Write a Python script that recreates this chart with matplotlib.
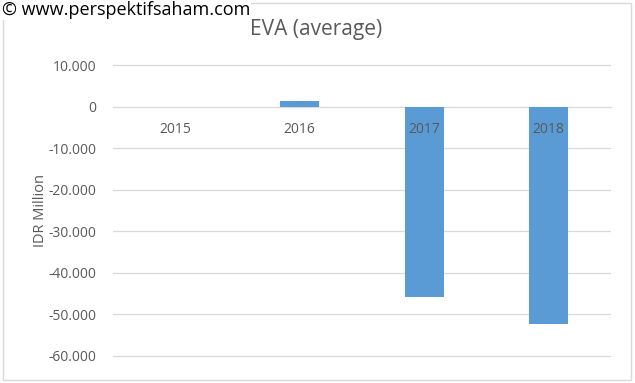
import matplotlib
matplotlib.use('Agg')
import matplotlib.pyplot as plt
from matplotlib.ticker import FuncFormatter, MultipleLocator
from matplotlib.patches import Rectangle

years = ['2015', '2016', '2017', '2018']
eva = [0, 1300, -45800, -52200]

plt.rcParams['font.family'] = ['Open Sans', 'DejaVu Sans']
grey = '#595959'

px = 1/100
fig = plt.figure(figsize=(635*px, 383*px), dpi=100)
ax = fig.add_axes([113/635, 1-358/383, (611-113)/635, (358-63)/383])

x = range(len(years))
ax.bar(x, eva, width=0.31, color='#5B9BD5', zorder=3)

ax.set_ylim(-60500, 10500)
ax.set_xlim(-0.5, 3.5)
ax.yaxis.set_major_locator(MultipleLocator(10000))
ax.yaxis.set_major_formatter(FuncFormatter(lambda v, p: f'{int(v):,}'.replace(',', '.')))
ax.grid(axis='y', color='#d9d9d9', linewidth=0.9, zorder=0)
for s in ['top', 'right', 'left']:
    ax.spines[s].set_visible(False)
ax.spines['bottom'].set_position(('data', 0))
ax.spines['bottom'].set_color('#d9d9d9')
ax.set_xticks(list(x))
ax.set_xticklabels(years)
ax.xaxis.set_zorder(5)  # year labels sit on top of the bars
ax.tick_params(axis='x', length=0, pad=11, labelsize=10, labelcolor=grey)
ax.tick_params(axis='y', length=0, pad=12, labelsize=10, labelcolor=grey)
ax.set_ylabel('IDR Million', fontsize=10.5, color=grey, labelpad=0)

fig.text(316/635, 1-30/383, 'EVA (average)', ha='center', va='center', fontsize=15, color=grey)
fig.patches.append(Rectangle((3/635, 3/383), 628/635, 377/383, transform=fig.transFigure,
                             fill=False, edgecolor='#d9d9d9', linewidth=1))
fig.text(2/635, 1-10/383, '\u00a9 www.perspektifsaham.com', ha='left', va='center', fontsize=13, color='black',
         bbox=dict(facecolor='white', edgecolor='none', pad=0.5))

fig.savefig('out.png', dpi=100)
